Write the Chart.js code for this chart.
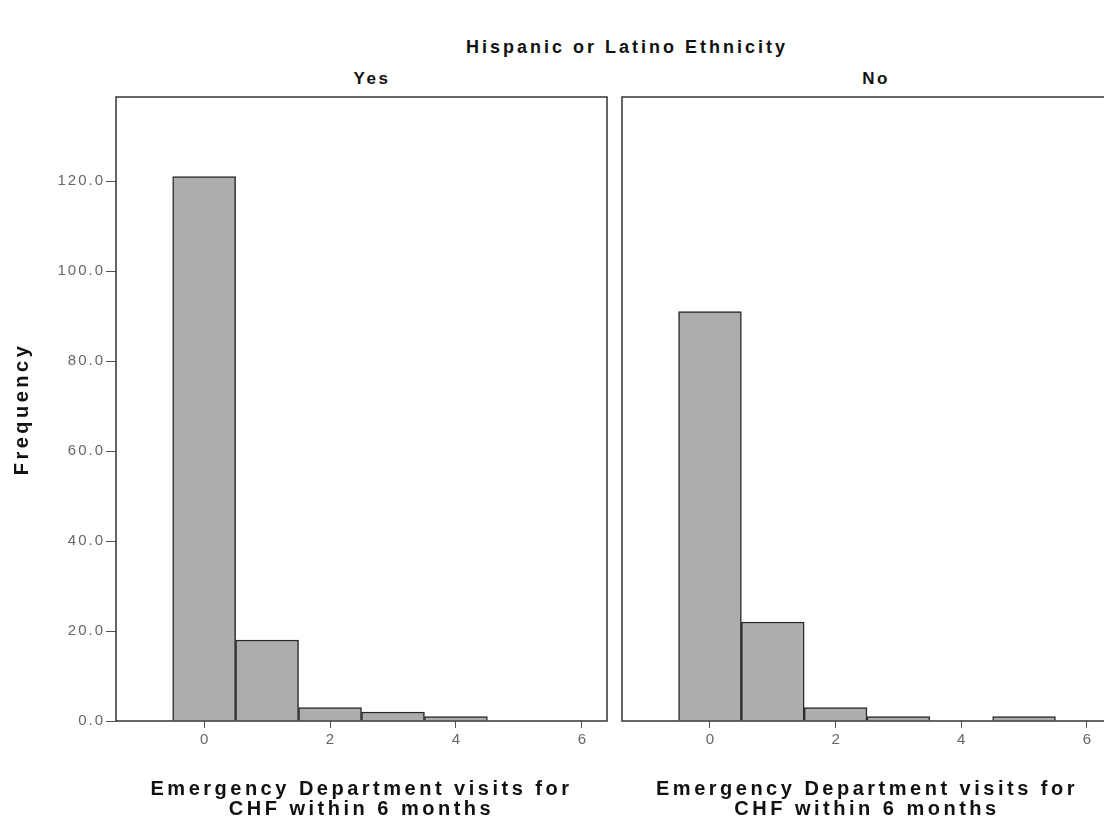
<!DOCTYPE html>
<html>
<head>
<meta charset="utf-8">
<script src="https://cdn.jsdelivr.net/npm/chart.js@4.4.0/dist/chart.umd.min.js"></script>
<style>
  html, body { margin: 0; padding: 0; background: #fff; overflow: hidden; }
  body { width: 1104px; height: 833px; position: relative; font-family: "Liberation Sans", Arial, sans-serif; }
  .lbl { position: absolute; text-align: center; font-weight: bold; color: #111; white-space: nowrap; }
  #mainTitle { left: 427px; width: 400px; top: 37px; font-size: 18px; letter-spacing: 3px; }
  #tYes { left: 272px; width: 200px; top: 69px; font-size: 17px; letter-spacing: 2.5px; }
  #tNo { left: 776px; width: 200px; top: 69px; font-size: 17px; letter-spacing: 2.5px; }
  canvas { position: absolute; top: 60px; }
  #yes { left: 0; }
  #no { left: 612px; }
</style>
</head>
<body>
<div id="mainTitle" class="lbl">Hispanic or Latino Ethnicity</div>
<div id="tYes" class="lbl">Yes</div>
<div id="tNo" class="lbl">No</div>
<canvas id="yes" width="612" height="770"></canvas>
<canvas id="no" width="500" height="770"></canvas>
<script>
// visit counts (x) and frequencies per panel
const visits = [0, 1, 2, 3, 4, 5, 6];
const freqYes = [121, 18, 3, 2, 1, 0, 0];
const freqNo = [91, 22, 3, 1, 0, 1, 0];
const yTicks = [0, 20, 40, 60, 80, 100, 120];
const xTicks = [0, 2, 4, 6];
const xTitle = ['Emergency Department visits for', 'CHF within 6 months'];

const font = '"Liberation Sans", Arial, sans-serif';

// draws the box round each panel
const framePlugin = {
  id: 'frame',
  afterDatasetsDraw(chart) {
    const { ctx, chartArea: a } = chart;
    ctx.save();
    ctx.strokeStyle = '#333';
    ctx.lineWidth = 1.5;
    ctx.strokeRect(a.left, a.top, a.right - a.left, a.bottom - a.top);
    ctx.restore();
  }
};

// the SPSS text is widely spaced, so add letter spacing when a scale draws its text
function spaceOut(s, labelSp, titleSp) {
  if (s._spaced) return;
  s._spaced = true;
  const dt = s.drawTitle.bind(s);
  const dl = s.drawLabels.bind(s);
  s.drawTitle = function () { this.ctx.letterSpacing = titleSp; dt(); this.ctx.letterSpacing = '0px'; };
  s.drawLabels = function (area) { this.ctx.letterSpacing = labelSp; dl(area); this.ctx.letterSpacing = '0px'; };
}

function makePanel(id, values, showY) {
  const ctx = document.getElementById(id);
  return new Chart(ctx, {
    type: 'bar',
    data: {
      datasets: [{
        data: visits.map((v, i) => ({ x: v, y: values[i] })),
        backgroundColor: '#adadad',
        borderColor: '#2a2a2a',
        borderWidth: 1.5,
        barPercentage: 1,
        categoryPercentage: 1
      }]
    },
    options: {
      responsive: false,
      animation: false,
      layout: { padding: { left: 0, right: showY ? 5 : 0, top: 37, bottom: 0 } },
      plugins: {
        legend: { display: false },
        tooltip: { enabled: false },
        title: { display: false }
      },
      scales: {
        x: {
          type: 'linear',
          min: -1.4,
          max: 6.4,
          offset: false,
          afterBuildTicks: s => { s.ticks = xTicks.map(v => ({ value: v })); },
          afterFit: s => { s.height = 109; spaceOut(s, '0px', '3.5px'); },
          ticks: {
            color: '#666',
            font: { family: font, size: 15 },
            padding: 3,
            maxRotation: 0
          },
          grid: { offset: false, drawOnChartArea: false, drawTicks: true, tickLength: 7, color: '#555' },
          border: { display: false },
          title: {
            display: true,
            text: xTitle,
            color: '#111',
            font: { family: font, size: 20, weight: 'bold', lineHeight: 0.98 },
            padding: { top: 0, bottom: 11 }
          }
        },
        y: {
          min: 0,
          max: 138.7,
          afterBuildTicks: s => { s.ticks = yTicks.map(v => ({ value: v })); },
          afterFit: s => { s.width = showY ? 116 : 10; spaceOut(s, '2px', '3.5px'); },
          ticks: {
            display: showY,
            color: '#666',
            font: { family: font, size: 15 },
            padding: 1,
            callback: v => v.toFixed(1)
          },
          grid: { drawOnChartArea: false, drawTicks: showY, tickLength: 10, color: '#555' },
          border: { display: false },
          title: {
            display: showY,
            text: 'Frequency',
            color: '#111',
            font: { family: font, size: 20, weight: 'bold' },
            padding: { top: 10, bottom: 0 }
          }
        }
      }
    },
    plugins: [framePlugin]
  });
}

makePanel('yes', freqYes, true);
makePanel('no', freqNo, false);
</script>
</body>
</html>
